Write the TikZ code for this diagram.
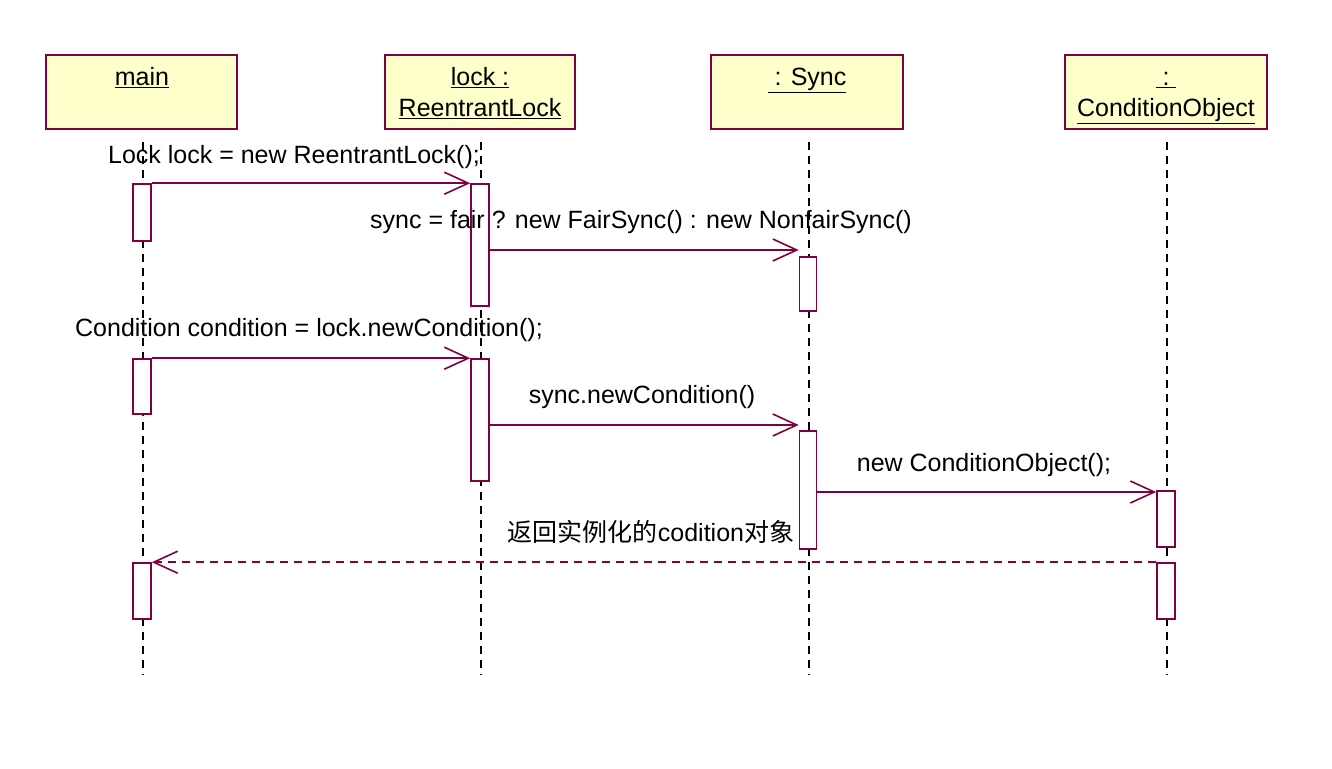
\documentclass[tikz,border=0pt]{standalone}
\usepackage{fontspec}
\setmainfont{Liberation Sans}
\newfontfamily\cjk{Noto Sans CJK SC}
\usetikzlibrary{arrows.meta}
\definecolor{rose}{RGB}{128,0,64}
\definecolor{hdrfill}{RGB}{255,255,204}
\tikzset{
  hdr/.style={draw=rose, line width=2pt, fill=hdrfill, rectangle, minimum height=74pt, inner sep=0pt},
  hdrtxt/.style={font=\fontsize{25}{31}\selectfont, align=center, anchor=north, inner sep=0pt},
  actbox/.style={draw=rose, line width=1.6pt, fill=white, rectangle, minimum width=18pt, inner sep=0pt},
  life/.style={draw=black, line width=1.6pt, dash pattern=on 8pt off 6pt},
  msg/.style={draw=rose, line width=1.6pt, -{Straight Barb[length=24pt, width=22pt, line width=1.6pt]}},
  ret/.style={msg, dash pattern=on 8pt off 6pt},
  lbl/.style={font=\fontsize{25}{29}\selectfont, inner sep=0pt, text height=18pt, text depth=5pt}
}
\begin{document}
\begin{tikzpicture}[x=1pt,y=-1pt]
\useasboundingbox[fill=white] (0,0) rectangle (1332,768);
% headers
\node[hdr, minimum width=191pt] (mainH) at (141.5,92) {};
\node[hdr, minimum width=190pt] (lockH) at (480,92) {};
\node[hdr, minimum width=192pt] (syncH) at (807,92) {};
\node[hdr, minimum width=202pt] (condH) at (1166,92) {};
\node[hdrtxt] (mainT) at (142,67) {\vphantom{l}\underline{main}};
\node[hdrtxt] (lockT) at (480,67) {\vphantom{l}\underline{lock :}\\\underline{ReentrantLock}};
\node[hdrtxt] (syncT) at (807,67) {\vphantom{l}\underline{\ : Sync}};
\node[hdrtxt] (condT) at (1166,67) {\vphantom{l}\underline{\ :\ }\\\underline{ConditionObject}};
% lifeline ends
\coordinate (mainE) at (143,675);
\coordinate (lockE) at (481,675);
\coordinate (syncE) at (809,675);
\coordinate (condE) at (1167,675);
\draw[life] (mainH.south -| mainE) ++(0,12) -- (mainE);
\draw[life] (lockH.south -| lockE) ++(0,12) -- (lockE);
\draw[life] (syncH.south -| syncE) ++(0,12) -- (syncE);
\draw[life] (condH.south -| condE) ++(0,12) -- (condE);
% activations
\node[actbox, minimum height=57pt] (m1) at (142,212.5) {};
\node[actbox, minimum height=55pt] (m2) at (142,386.5) {};
\node[actbox, minimum height=56pt] (m3) at (142,591) {};
\node[actbox, minimum height=122pt] (l1) at (480,245) {};
\node[actbox, minimum height=122pt] (l2) at (480,420) {};
\node[actbox, minimum width=17pt, minimum height=54pt] (s1) at (808,284) {};
\node[actbox, minimum width=17pt, minimum height=118pt] (s2) at (808,490) {};
\node[actbox, minimum height=56pt] (c1) at (1166,519) {};
\node[actbox, minimum height=56pt] (c2) at (1166,591) {};
% labels
\node[lbl] (t1) at (294,157) {Lock lock = new ReentrantLock();};
\node[lbl] (t2) at (641,222) {sync = fair ? new FairSync() : new NonfairSync()};
\node[lbl] (t3) at (309,330) {Condition condition = lock.newCondition();};
\node[lbl] (t4) at (642,397) {sync.newCondition()};
\node[lbl] (t5) at (984,465) {new ConditionObject();};
\node[lbl] (t6) at (651,535) {{\cjk 返回实例化的}codition{\cjk 对象}};
% messages
\draw[msg] (m1.north east) -- (l1.north west);
\draw[msg] (l1.east |- 0,250) -- (s1.west |- 0,250);
\draw[msg] (m2.north east) -- (l2.north west);
\draw[msg] (l2.east |- 0,425) -- (s2.west |- 0,425);
\draw[msg] (s2.east |- 0,492) -- (c1.west |- 0,492);
\draw[ret] (c2.north west) -- (m3.north east);
\end{tikzpicture}
\end{document}
